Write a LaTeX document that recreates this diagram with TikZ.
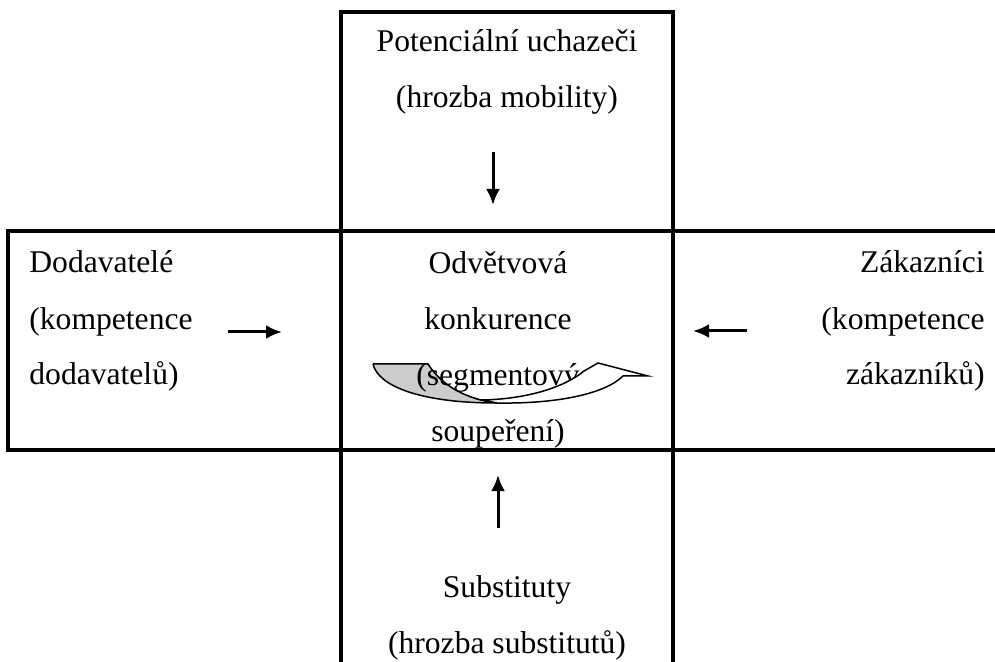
\documentclass[tikz,border=0pt]{standalone}
\usepackage{fontspec}
\setmainfont{Liberation Serif}
\usetikzlibrary{arrows.meta}

\begin{document}
\begin{tikzpicture}[x=0.5pt,y=-0.5pt,>={Latex[length=8pt,width=7pt]},line join=miter,
  frame/.style={line width=1.6pt},
  force/.style={->,line width=1.5pt},
  label/.style={inner sep=0pt,font=\fontsize{15.8}{28}\selectfont},
  ribbon/.style={line width=0.75pt}]
	%%
	\useasboundingbox (0,0) rectangle (995,662);
	% frames
	\draw [frame] (341,662) -- (341,12) -- (673,12) -- (673,662);
	\draw [frame] (995,231) -- (8,231) -- (8,450) -- (995,450);
	% back part of the ribbon
	\draw [ribbon,fill=black!20] (373,364) -- (428,364) .. controls (442,386) and (466,399) .. (497,403)
	  .. controls (420,403) and (378,386) .. (373,364);
	%
	\node (entrants) at (507,108) [label,anchor=base,align=center] {Potenciální uchazeči\\(hrozba mobility)};
	\node (suppliers) at (29,385) [label,anchor=base west,align=left] {Dodavatelé\\(kompetence\\dodavatelů)};
	\node (rivalry) at (498,441) [label,anchor=base,align=center] {Odvětvová\\konkurence\\(segmentový\\soupeření)};
	\node (buyers) at (985,385) [label,anchor=base east,align=right] {Zákazníci\\(kompetence\\zákazníků)};
	\node (substitutes) at (507,653) [label,anchor=base,align=center] {Substituty\\(hrozba substitutů)};
	% front part of the ribbon
	\draw [ribbon,fill=white] (482,400) .. controls (530,399) and (566,386) .. (584,371)
	  -- (598,363) -- (648,376) -- (623,376)
	  .. controls (606,393) and (560,404) .. (497,403) -- cycle;
	%
	\coordinate (e1) at (493,152);
	\coordinate (o1) at (493,205);
	\coordinate (e2) at (228,332);
	\coordinate (o2) at (282,332);
	\coordinate (e3) at (747,331);
	\coordinate (o3) at (693,331);
	\coordinate (e4) at (498,528);
	\coordinate (o4) at (498,475);
	\draw [force] (e1) -- (o1);
	\draw [force] (e2) -- (o2);
	\draw [force] (e3) -- (o3);
	\draw [force] (e4) -- (o4);
	%
\end{tikzpicture}
\end{document}
